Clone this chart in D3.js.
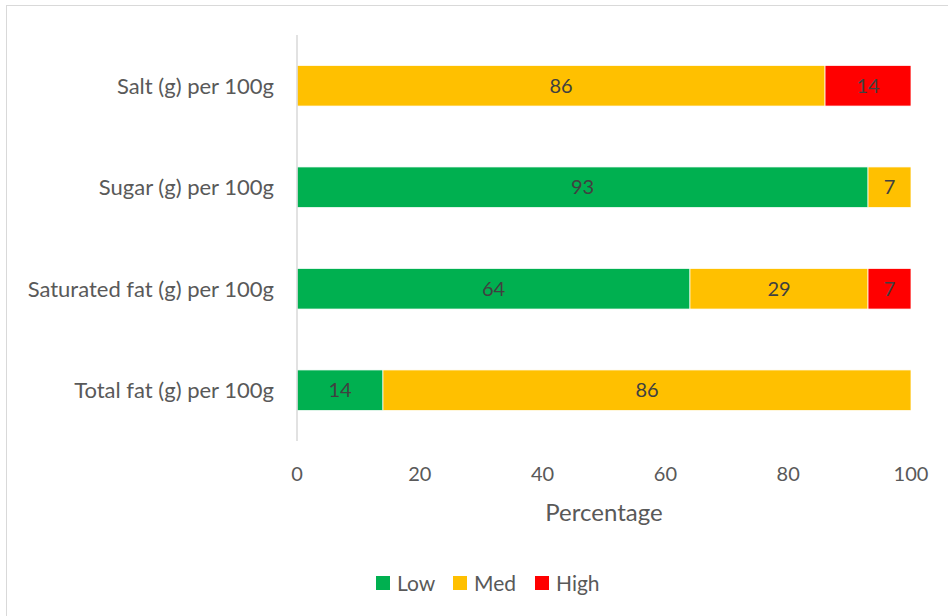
<!DOCTYPE html>
<html>
<head>
<meta charset="utf-8">
<script src="https://cdn.jsdelivr.net/npm/d3@7"></script>
<style>
  body { margin: 0; background: #fff; }
  svg text { font-family: "Lato", "Open Sans", sans-serif; }
</style>
</head>
<body>
<div id="chart"></div>
<script>
const categories = ["Salt (g) per 100g", "Sugar (g) per 100g", "Saturated fat (g) per 100g", "Total fat (g) per 100g"];
const seriesNames = ["Low", "Med", "High"];
const lowValues = [0, 93, 64, 14];
const medValues = [86, 7, 29, 86];
const highValues = [14, 0, 7, 0];
const colors = ["#00b050", "#ffc000", "#ff0000"];
const xTicks = [0, 20, 40, 60, 80, 100];

const W = 948, H = 616;
const plot = { left: 297, right: 911, top: 35, bottom: 441 };

const svg = d3.select("#chart").append("svg")
    .attr("width", W)
    .attr("height", H);

svg.append("rect")
    .attr("x", 6.5).attr("y", 5.5)
    .attr("width", W + 20).attr("height", H + 20)
    .attr("fill", "#fff")
    .attr("stroke", "#d9d9d9");

const x = d3.scaleLinear().domain([0, 100]).range([plot.left, plot.right]);
const y = d3.scaleBand().domain(categories).range([plot.top, plot.bottom]).paddingInner(0.6).paddingOuter(0.3);

const rows = categories.map((c, i) => ({ cat: c, Low: lowValues[i], Med: medValues[i], High: highValues[i] }));
const stacked = d3.stack().keys(seriesNames)(rows);

const groups = svg.selectAll("g.series")
    .data(stacked)
    .enter().append("g")
    .attr("class", "series")
    .attr("fill", (d, i) => colors[i]);

groups.selectAll("rect")
    .data(d => d.filter(s => s[1] - s[0] > 0))
    .enter().append("rect")
    .attr("x", d => x(d[0]))
    .attr("y", d => y(d.data.cat))
    .attr("width", d => x(d[1]) - x(d[0]))
    .attr("height", y.bandwidth())
    .attr("stroke", "#fff")
    .attr("stroke-width", 0.75);

groups.selectAll("text")
    .data(d => d.filter(s => s[1] - s[0] > 0))
    .enter().append("text")
    .attr("x", d => (x(d[0]) + x(d[1])) / 2)
    .attr("y", d => y(d.data.cat) + y.bandwidth() / 2)
    .attr("dy", "0.36em")
    .attr("text-anchor", "middle")
    .attr("fill", "#404040")
    .style("font-size", "20px")
    .text(d => d[1] - d[0]);

// vertical axis line
svg.append("line")
    .attr("x1", x(0)).attr("x2", x(0))
    .attr("y1", plot.top).attr("y2", plot.bottom)
    .attr("stroke", "#d9d9d9")
    .attr("stroke-width", 1.5);

// category labels
svg.selectAll("text.cat")
    .data(categories)
    .enter().append("text")
    .attr("class", "cat")
    .attr("x", plot.left - 23)
    .attr("y", d => y(d) + y.bandwidth() / 2)
    .attr("dy", "0.36em")
    .attr("text-anchor", "end")
    .attr("fill", "#595959")
    .style("font-size", "22px")
    .text(d => d);

// x tick labels
svg.selectAll("text.tick")
    .data(xTicks)
    .enter().append("text")
    .attr("class", "tick")
    .attr("x", d => x(d))
    .attr("y", 474)
    .attr("dy", "0.36em")
    .attr("text-anchor", "middle")
    .attr("fill", "#595959")
    .style("font-size", "20px")
    .text(d => d);

svg.append("text")
    .attr("x", (plot.left + plot.right) / 2)
    .attr("y", 512)
    .attr("dy", "0.36em")
    .attr("text-anchor", "middle")
    .attr("fill", "#595959")
    .style("font-size", "24px")
    .text("Percentage");

// legend
const legendX = [376, 453, 535];
const legend = svg.selectAll("g.legend")
    .data(seriesNames)
    .enter().append("g")
    .attr("class", "legend")
    .attr("transform", (d, i) => `translate(${legendX[i]},576)`);

legend.append("rect")
    .attr("width", 14).attr("height", 14)
    .attr("fill", (d, i) => colors[i]);

legend.append("text")
    .attr("x", 21)
    .attr("y", 7)
    .attr("dy", "0.36em")
    .attr("fill", "#595959")
    .style("font-size", "21px")
    .text(d => d);
</script>
</body>
</html>
